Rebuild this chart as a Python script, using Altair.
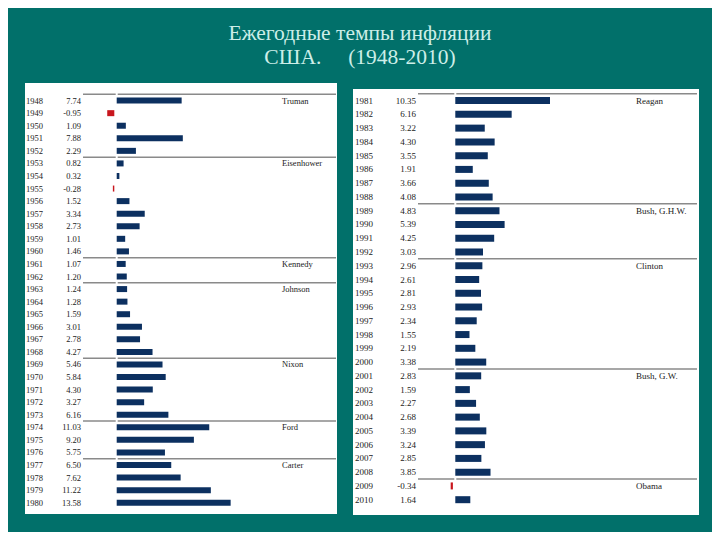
import altair as alt
import pandas as pd

# ---- data ----
years_left = list(range(1948, 1981))
values_left = [7.74, -0.95, 1.09, 7.88, 2.29, 0.82, 0.32, -0.28, 1.52, 3.34, 2.73,
               1.01, 1.46, 1.07, 1.20, 1.24, 1.28, 1.59, 3.01, 2.78, 4.27, 5.46,
               5.84, 4.30, 3.27, 6.16, 11.03, 9.20, 5.75, 6.50, 7.62, 11.22, 13.58]
pres_left = ["Truman", "Eisenhower", "Kennedy", "Johnson", "Nixon", "Ford", "Carter"]
pres_left_start = [1948, 1953, 1961, 1963, 1969, 1974, 1977]

years_right = list(range(1981, 2011))
values_right = [10.35, 6.16, 3.22, 4.30, 3.55, 1.91, 3.66, 4.08, 4.83, 5.39, 4.25,
                3.03, 2.96, 2.61, 2.81, 2.93, 2.34, 1.55, 2.19, 3.38, 2.83, 1.59,
                2.27, 2.68, 3.39, 3.24, 2.85, 3.85, -0.34, 1.64]
pres_right = ["Reagan", "Bush, G.H.W.", "Clinton", "Bush, G.W.", "Obama"]
pres_right_start = [1981, 1989, 1993, 2001, 2009]

title_lines = ["Ежегодные темпы инфляции", "США.\u00a0\u00a0\u00a0\u00a0\u00a0(1948-2010)"]

SERIF = "Liberation Serif"
NAVY = "#0c3060"
RED = "#c8161d"
RULE = "#8a8a8a"
TEAL = "#01706a"
TXT = "#222222"

W, H = 704, 524


def panel(tag, years, vals, names, starts, ydom, xdom, zero_px, fs, bar_h,
          year_x, val_x, rule_x0, rule_x1, name_x, box):
    yf, xf = f"year_{tag}", f"value_{tag}"
    df = pd.DataFrame({
        yf: years,
        xf: vals,
        "ylab": [str(y) for y in years],
        "vlab": [f"{v:.2f}" for v in vals],
    })
    rules = pd.DataFrame({yf: [s - 0.5 for s in starts]})
    names_df = pd.DataFrame({yf: starts, "name": names})

    ysc = alt.Scale(domain=ydom, reverse=True, nice=False, zero=False)
    xsc = alt.Scale(domain=xdom, nice=False, zero=False)
    y = alt.Y(f"{yf}:Q", scale=ysc, axis=None)
    x = alt.X(f"{xf}:Q", scale=xsc, axis=None)

    bg = alt.Chart(pd.DataFrame({"k": [0]})).mark_rect(color="white").encode(
        x=alt.value(box[0]), x2=alt.value(box[1]),
        y=alt.value(box[2]), y2=alt.value(box[3]))

    base = alt.Chart(df)
    pos = base.transform_filter(f"datum.{xf} >= 0").mark_bar(
        color=NAVY, size=bar_h, orient="horizontal"
    ).encode(x=x, x2=alt.datum(0), y=y)
    neg = base.transform_filter(f"datum.{xf} < 0").mark_bar(
        color=RED, size=bar_h, orient="horizontal", x2Offset=-2.4, xOffset=-1.5
    ).encode(x=x, x2=alt.datum(0), y=y)

    r1 = alt.Chart(rules).mark_rule(color=RULE, strokeWidth=1.5).encode(
        y=y, x=alt.value(rule_x0), x2=alt.value(zero_px - 1))
    r2 = alt.Chart(rules).mark_rule(color=RULE, strokeWidth=1.5).encode(
        y=y, x=alt.value(zero_px + 1), x2=alt.value(rule_x1))

    ytxt = base.mark_text(align="left", baseline="middle", font=SERIF,
                          fontSize=fs, color=TXT).encode(
        x=alt.value(year_x), y=y, text="ylab:N")
    vtxt = base.mark_text(align="right", baseline="middle", font=SERIF,
                          fontSize=fs, color=TXT).encode(
        x=alt.value(val_x), y=y, text="vlab:N")
    ntxt = alt.Chart(names_df).mark_text(align="left", baseline="middle", font=SERIF,
                                         fontSize=fs, color=TXT).encode(
        x=alt.value(name_x), y=y, text="name:N")

    return bg, alt.layer(r1, r2, pos, neg, ytxt, vtxt, ntxt)


bg_l, left = panel("l", years_left, values_left, pres_left, pres_left_start,
                   ydom=[1941.029, 1981.934], xdom=[-12.956, 70.95],
                   zero_px=108.7, fs=8.5, bar_h=6, year_x=18, val_x=73,
                   rule_x0=75, rule_x1=328, name_x=274, box=(17, 329, 75, 506))

bg_r, right = panel("r", years_right, values_right, pres_right, pres_right_start,
                    ydom=[1974.635, 2011.984], xdom=[-48.885, 28.055],
                    zero_px=447.3, fs=9, bar_h=7, year_x=347, val_x=408,
                    rule_x0=410, rule_x1=689, name_x=628, box=(345, 691, 81, 507))

chart = alt.layer(bg_l, bg_r, left, right).resolve_scale(
    x="independent", y="independent"
).properties(
    width=W, height=H,
    autosize=alt.AutoSizeParams(type="none"),
    padding=0,
    background=TEAL,
    title=alt.TitleParams(title_lines, font=SERIF, fontSize=21.5, fontWeight="normal",
                          color="#cdeee8", lineHeight=24, anchor="middle",
                          offset=-60),
).configure_view(stroke="transparent")

chart.save("out.html", embed_options={"renderer": "svg", "actions": False})
